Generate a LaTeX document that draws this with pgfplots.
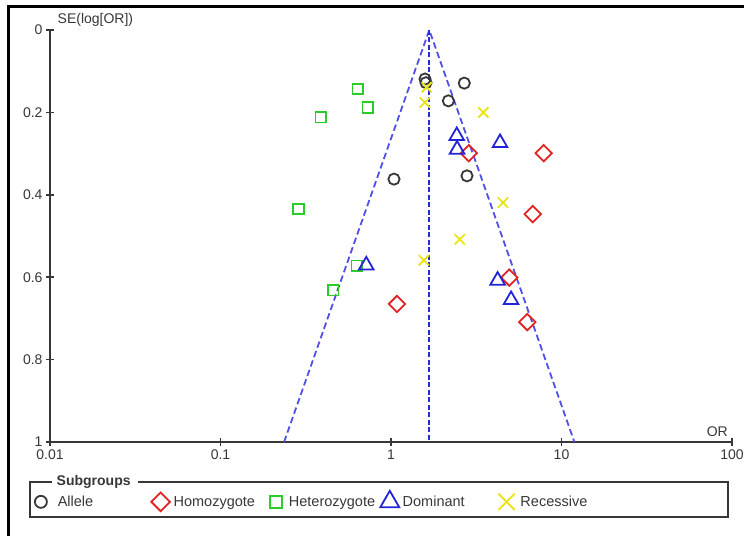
\documentclass[border=0pt]{standalone}
\usepackage{fontspec}
\setmainfont{Liberation Sans}
\usepackage{pgfplots}
\pgfplotsset{compat=1.18}
\definecolor{allele}{RGB}{55,55,55}
\definecolor{homo}{RGB}{225,35,35}
\definecolor{hetero}{RGB}{40,205,40}
\definecolor{dom}{RGB}{35,35,215}
\definecolor{rec}{RGB}{235,228,20}
\definecolor{funnel}{RGB}{80,80,232}
\definecolor{centerl}{RGB}{40,40,220}
\definecolor{axisgray}{RGB}{55,55,55}
\begin{document}
\begin{tikzpicture}[x=1bp,y=1bp]
\path[use as bounding box] (0,0) rectangle (744,536);
\fill[black] (7,0) rectangle (10,531);
\fill[black] (7,528) rectangle (744,531);
\begin{axis}[
  at={(50bp,94bp)}, anchor=south west, scale only axis,
  width=682bp, height=412bp,
  xmode=log, xmin=0.01, xmax=100, ymin=0, ymax=1, y dir=reverse,
  axis lines=left, axis line style={axisgray, line width=1.5bp, -},
  xtick={0.01,0.1,1,10,100}, xticklabels={0.01,0.1,1,10,100},
  xminorticks=false,
  ytick={0,0.2,0.4,0.6,0.8,1},
  tick align=center, major tick length=8bp,
  tick style={axisgray, line width=1.5bp},
  /pgf/number format/assume math mode=true,
  tick label style={font=\fontsize{14bp}{16bp}\selectfont, text=axisgray},
  clip=false,
  legend columns=5,
  legend style={draw=none, fill=none, inner sep=0pt, outer sep=0pt,
    at={(axis description cs:-0.0308,-0.1432)}, anchor=west,
    nodes={inner sep=0pt, font=\fontsize{14.5bp}{17bp}\selectfont, text=axisgray},
    column sep=0pt},
  legend image code/.code={\draw[#1] plot coordinates {(0bp,0bp)}; \path (-11bp,0bp) (11bp,0bp);},
]
\addplot[color=funnel, dash pattern=on 6.5bp off 3.5bp, line width=1.8bp, forget plot]
  coordinates {(0.236,1) (1.677,0) (11.9,1)};
\addplot[color=centerl, dash pattern=on 5bp off 2.5bp, line width=1.8bp, forget plot]
  coordinates {(1.677,0) (1.677,1)};
\addplot[only marks, mark=o, mark size=5.6bp, color=allele, line width=1.8bp, forget plot]
  coordinates {(1.583,0.119) (1.604,0.128) (2.69,0.129) (2.17,0.172) (1.041,0.362) (2.79,0.354)};
\addplot[only marks, mark=square, mark options={rotate=45}, mark size=5.8bp, color=homo, line width=1.8bp, forget plot]
  coordinates {(2.86,0.299) (7.86,0.299) (6.78,0.447) (4.94,0.601) (1.084,0.665) (6.30,0.709)};
\addplot[only marks, mark=square, mark size=5.2bp, color=hetero, line width=1.8bp, forget plot]
  coordinates {(0.638,0.143) (0.730,0.188) (0.387,0.212) (0.287,0.434) (0.629,0.572) (0.459,0.632)};
\addplot[only marks, mark=triangle, mark size=8.4bp, color=dom, line width=1.8bp, forget plot]
  coordinates {(2.43,0.257) (2.44,0.290) (4.36,0.274) (0.716,0.571) (4.22,0.608) (5.06,0.655)};
\addplot[only marks, mark=x, mark size=7.2bp, color=rec, line width=1.8bp, forget plot]
  coordinates {(1.62,0.139) (1.58,0.176) (3.48,0.200) (4.54,0.419) (2.53,0.508) (1.56,0.559)};
\addlegendimage{only marks, mark=o, mark size=6bp, color=allele, line width=1.8bp}
\addlegendentry{\makebox[96bp][l]{\hspace{5bp}Allele}}
\addlegendimage{only marks, mark=square, mark options={rotate=45}, mark size=6.6bp, color=homo, line width=1.8bp}
\addlegendentry{\makebox[91.5bp][l]{\hspace{1bp}Homozygote}}
\addlegendimage{only marks, mark=square, mark size=6bp, color=hetero, line width=1.8bp}
\addlegendentry{\makebox[90bp][l]{\hspace{1bp}Heterozygote}}
\addlegendimage{only marks, mark=triangle, mark size=11bp, color=dom, line width=1.8bp}
\addlegendentry{\makebox[93bp][l]{\hspace{1bp}Dominant}}
\addlegendimage{only marks, mark=x, mark size=11.5bp, color=rec, line width=1.8bp}
\addlegendentry{\makebox[80bp][l]{\hspace{2bp}Recessive}}
\end{axis}
\node[anchor=base west, font=\fontsize{14bp}{16bp}\selectfont, text=axisgray, inner sep=0pt] at (57.5,512.5) {SE(log[OR])};
\node[anchor=base east, font=\fontsize{14bp}{16bp}\selectfont, text=axisgray, inner sep=0pt] at (728,99) {OR};
\draw[axisgray, line width=1.6bp] (52,54) -- (30,54) -- (30,19) -- (728,19) -- (728,54) -- (138,54);
\node[anchor=base west, font=\fontsize{14bp}{16bp}\selectfont\bfseries, text=axisgray, inner sep=0pt] at (56.5,50) {Subgroups};
\end{tikzpicture}
\end{document}
